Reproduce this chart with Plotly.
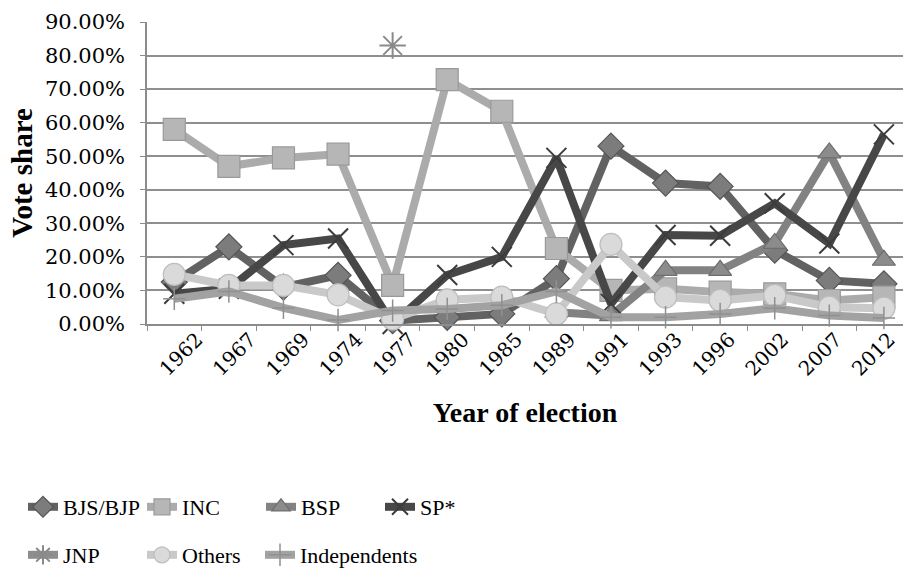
import plotly.graph_objects as go

years = ["1962", "1967", "1969", "1974", "1977", "1980", "1985", "1989",
         "1991", "1993", "1996", "2002", "2007", "2012"]

bjs_bjp = [0.125, 0.23, 0.11, 0.145, 0.01, 0.02, 0.03, 0.135, 0.53, 0.42, 0.41, 0.22, 0.13, 0.12]
inc = [0.58, 0.47, 0.495, 0.506, 0.115, 0.728, 0.634, 0.225, 0.10, 0.105, 0.095, 0.09, 0.07, 0.08]
bsp = [None, None, None, None, None, None, None, 0.035, 0.025, 0.16, 0.16, 0.24, 0.51, 0.19]
sp = [0.09, 0.105, 0.235, 0.255, 0.0, 0.146, 0.20, 0.495, 0.06, 0.265, 0.263, 0.36, 0.24, 0.565]
jnp = [None, None, None, None, 0.83, None, None, None, None, None, None, None, None, None]
others = [0.148, 0.115, 0.115, 0.087, 0.015, 0.072, 0.08, 0.03, 0.237, 0.08, 0.07, 0.085, 0.05, 0.047]
independents = [0.075, 0.097, 0.048, 0.012, 0.04, 0.045, 0.056, 0.097, 0.02, 0.02, 0.03, 0.047, 0.025, 0.018]

y_ticks = [0, 0.1, 0.2, 0.3, 0.4, 0.5, 0.6, 0.7, 0.8, 0.9]
y_tick_text = ["0.00%", "10.00%", "20.00%", "30.00%", "40.00%", "50.00%",
               "60.00%", "70.00%", "80.00%", "90.00%"]

fig = go.Figure()

def add(name, vals, line_color, symbol, msize, mcolor, mline, legend, lw=8, mlw=1.2):
    fig.add_trace(go.Scatter(
        x=years, y=vals, name=name, mode="lines+markers",
        line=dict(color=line_color, width=lw),
        marker=dict(symbol=symbol, size=msize, color=mcolor,
                    line=dict(color=mline, width=mlw)),
        cliponaxis=False, legend=legend, connectgaps=False,
    ))

add("BJS/BJP", bjs_bjp, "#626262", "diamond", 20, "#7c7c7c", "#555555", "legend")
add("INC", inc, "#ababab", "square", 22, "#b6b6b6", "#9a9a9a", "legend")
add("BSP", bsp, "#828282", "triangle-up", 20, "#8c8c8c", "#6e6e6e", "legend")
add("SP*", sp, "#474747", "x-thin", 20, "#3c3c3c", "#3c3c3c", "legend", mlw=2)
add("JNP", jnp, "#8e8e8e", "asterisk", 22, "#8a8a8a", "#8a8a8a", "legend2", mlw=2)
add("Others", others, "#c9c9c9", "circle", 22, "#dadada", "#bdbdbd", "legend2")
add("Independents", independents, "#a2a2a2", "cross-thin", 16, "#909090", "#909090", "legend3", mlw=1.5)

# invisible helper trace carrying the year-label axis
fig.add_trace(go.Scatter(
    x=list(range(len(years))), y=[None] * len(years), xaxis="x2", yaxis="y",
    mode="markers", showlegend=False, hoverinfo="skip",
    marker=dict(opacity=0),
))

legend_font = dict(family="Liberation Serif", size=22, color="#000000")


def legend_cfg(x_px, y_px, entry=None):
    d = dict(
        orientation="h", xref="container", yref="container",
        xanchor="left", yanchor="middle", x=x_px / 903, y=1 - y_px / 573,
        font=legend_font, bgcolor="rgba(0,0,0,0)", itemwidth=30,
    )
    if entry:
        d["entrywidth"] = entry
        d["entrywidthmode"] = "pixels"
    return d


fig.update_layout(
    width=903, height=573,
    margin=dict(l=147, r=0, t=22, b=249, autoexpand=False),
    paper_bgcolor="white", plot_bgcolor="white",
    showlegend=True,
    legend=legend_cfg(23, 507, 74),
    legend2=legend_cfg(23, 555, 74),
    legend3=legend_cfg(260, 555),
    font=dict(family="DejaVu Serif", color="#000000"),
    xaxis=dict(
        type="category", range=[-0.5, 13.35], automargin=False,
        showticklabels=False,
        showline=True, linecolor="#8c8c8c", linewidth=1.5,
        ticks="outside", ticklen=5, tickcolor="#8c8c8c", tickson="boundaries",
        showgrid=False,
    ),
    xaxis2=dict(
        overlaying="x", anchor="y", side="bottom", automargin=False,
        range=[-0.939, 13.26], tickmode="array",
        tickvals=list(range(len(years))), ticktext=years,
        tickangle=-45, tickfont=dict(family="DejaVu Serif", size=20, color="#000"),
        ticks="", showline=False, showgrid=False, zeroline=False,
        ticklabelstandoff=-1,
        title=dict(text="<b>Year of election</b>",
                   font=dict(family="Liberation Serif", size=28, color="#000"),
                   standoff=22),
    ),
    yaxis=dict(
        range=[0, 0.9], tickvals=y_ticks, ticktext=y_tick_text, automargin=False,
        tickfont=dict(family="DejaVu Serif", size=21, color="#000"),
        showline=True, linecolor="#8c8c8c", linewidth=1.5,
        ticks="outside", ticklen=5, tickcolor="#8c8c8c", ticklabelstandoff=11,
        showgrid=True, gridcolor="#8f8f8f", gridwidth=1.5,
        zeroline=False, mirror=False,
        title=dict(text="<b>Vote share</b>",
                   font=dict(family="Liberation Serif", size=29, color="#000"),
                   standoff=4),
    ),
)

fig.write_html(
    "out.html",
    config={"displayModeBar": False},
    post_script="document.body.style.margin='0';document.body.style.overflow='hidden';",
)
